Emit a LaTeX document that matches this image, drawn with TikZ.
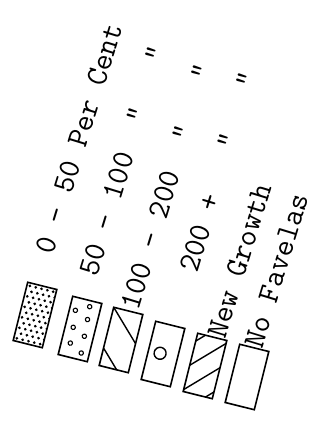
\documentclass[tikz,border=0pt]{standalone}
\usepackage{fontspec}
\usepackage{tikz}
\usetikzlibrary{positioning}

\begin{document}
\begin{tikzpicture}[
		legbox/.style={draw, line width=1.6pt, minimum width=30pt, minimum height=60pt, inner sep=0pt, rotate=-14},
		rowtext/.style={anchor=base west, inner sep=0pt, rotate=73, font=\ttfamily\fontsize{31}{31}\selectfont\addfontfeatures{FakeBold=3}},
		hatch/.style={line width=1.4pt}
	]
				\useasboundingbox (0,0) rectangle (325pt,-421pt);
				
				% legend boxes
				\node[legbox] (boxa) at (35pt,-315pt) {};
				\node[legbox] (boxb) at (80pt,-329pt) {};
				\node[legbox] (boxc) at (121pt,-340pt) {};
				\node[legbox] (boxd) at (163pt,-354pt) {};
				\node[legbox] (boxe) at (205pt,-366pt) {};
				\node[legbox] (boxf) at (247pt,-377pt) {};
				
				% dense dots
				\begin{scope}[shift={(boxa.center)}, rotate=-14, x=1pt, y=1pt]
					\clip (-15,-30) rectangle (15,30);
					\foreach \r in {0,...,10}
						\foreach \c in {0,...,4}
							\fill ({-12+\c*6+mod(\r,2)*3},{-27+\r*5.4}) circle (1.5pt);
				\end{scope}
				
				% open dots
				\begin{scope}[shift={(boxb.center)}, rotate=-14, x=1pt, y=1pt]
					\foreach \p in {(4,24),(-9,17),(5,11),(-7,0),(6,-6),(-6,-16),(7,-23)}
						\draw[line width=1.1pt] \p circle (2.2pt);
				\end{scope}
				
				% two diagonals
				\begin{scope}[shift={(boxc.center)}, rotate=-14, x=1pt, y=1pt]
					\clip (-15,-30) rectangle (15,30);
					\draw[hatch] (-15,30) -- (15,0);
					\draw[hatch] (-15,-12) -- (3,-30);
				\end{scope}
				
				% ring
				\begin{scope}[shift={(boxd.center)}, rotate=-14, x=1pt, y=1pt]
					\draw[line width=1.4pt] (-3,0) circle (6pt);
				\end{scope}
				
				% new growth hatching
				\begin{scope}[shift={(boxe.center)}, rotate=-14, x=1pt, y=1pt]
					\clip (-15,-30) rectangle (15,30);
					\foreach \k in {37,12,-13,-38}
						\draw[hatch] (-30,{\k-30}) -- (30,{\k+30});
				\end{scope}
				
				% labels
				\node[rowtext] (lbla) at (52.7pt,-256pt) {0 - 50 Per Cent};
				\node[rowtext] (lblb) at (96.8pt,-278pt) {50 - 100~~"~~~"};
				\node[rowtext] (lblc) at (138pt,-312pt) {100 - 200~~"~~~"};
				\node[rowtext] (lbld) at (197pt,-274pt) {200 +~~~"~~~"};
				\node[rowtext] (lble) at (225pt,-340pt) {New Growth};
				\node[rowtext] (lblf) at (262pt,-350pt) {No Favelas};
			\end{tikzpicture}
\end{document}
